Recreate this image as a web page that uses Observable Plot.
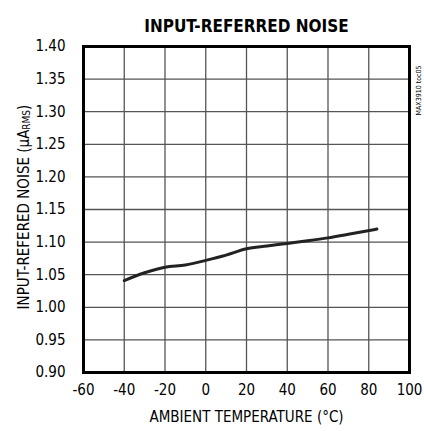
<!DOCTYPE html>
<html><head><meta charset="utf-8">
<script src="https://cdn.jsdelivr.net/npm/d3@7"></script>
<script src="https://cdn.jsdelivr.net/npm/@observablehq/plot@0.6"></script>
<style>body{margin:0;background:#fff} svg text{font-stretch:condensed}</style>
</head><body><div id="chart"></div>
<script>
const temperature = [-40, -30, -20, -10, 0, 10, 20, 30, 40, 50, 60, 70, 84];
const noise = [1.041, 1.053, 1.0615, 1.065, 1.072, 1.08, 1.0897, 1.094, 1.098, 1.102, 1.1065, 1.112, 1.120];
const xTicks = [-60, -40, -20, 0, 20, 40, 60, 80, 100];
const yTicks = [0.90, 0.95, 1.00, 1.05, 1.10, 1.15, 1.20, 1.25, 1.30, 1.35, 1.40];
const title = "INPUT-REFERRED NOISE";
const xLabel = "AMBIENT TEMPERATURE (°C)";
const yLabelMain = "INPUT-REFERED NOISE (µA";
const yLabelSub = "RMS";
const yLabelEnd = ")";
const sideNote = "MAX3910 toc05";

const data = temperature.map((t, i) => ({t, v: noise[i]}));
const font = "'DejaVu Sans', sans-serif";

const chart = Plot.plot({
  width: 424,
  height: 431,
  marginLeft: 83,
  marginRight: 15,
  marginTop: 46,
  marginBottom: 59,
  style: {fontFamily: font, fontSize: "14px", color: "#000", background: "#fff"},
  x: {domain: [-60, 100]},
  y: {domain: [0.90, 1.40]},
  marks: [
    Plot.ruleX(xTicks, {stroke: "#555", strokeWidth: 1.3}),
    Plot.ruleY(yTicks, {stroke: "#555", strokeWidth: 1.3}),
    Plot.axisX({ticks: xTicks, tickSize: 0, tickPadding: 12, label: null, tickFormat: d => String(d), fontSize: 15}),
    Plot.axisY({ticks: yTicks, tickSize: 0, tickPadding: 18, label: null, tickFormat: d => d.toFixed(2), fontSize: 15}),
    Plot.line(data, {x: "t", y: "v", stroke: "#222", strokeWidth: 3, curve: "monotone-x"}),
    Plot.frame({stroke: "#000", strokeWidth: 3}),
    Plot.text([title], {frameAnchor: "top", dy: -27, fontSize: 17, fontWeight: "bold", fill: "#000"}),
    Plot.text([xLabel], {frameAnchor: "bottom", dy: 49, fontSize: 15, fill: "#000"}),
    Plot.text([sideNote], {frameAnchor: "top-right", dx: 7, dy: 19, rotate: -90, fontSize: 7, fill: "#000"})
  ]
});

const svg = d3.select(chart);
const yl = svg.append("text")
  .attr("transform", "translate(24,207) rotate(-90)")
  .attr("text-anchor", "middle")
  .attr("dominant-baseline", "middle")
  .attr("font-family", font)
  .attr("font-size", 15)
  .attr("fill", "#000");
yl.append("tspan").text(yLabelMain);
yl.append("tspan").attr("font-size", 10).attr("dy", 3).text(yLabelSub);
yl.append("tspan").attr("dy", -3).text(yLabelEnd);

document.getElementById("chart").appendChild(chart);
</script>
</body></html>
